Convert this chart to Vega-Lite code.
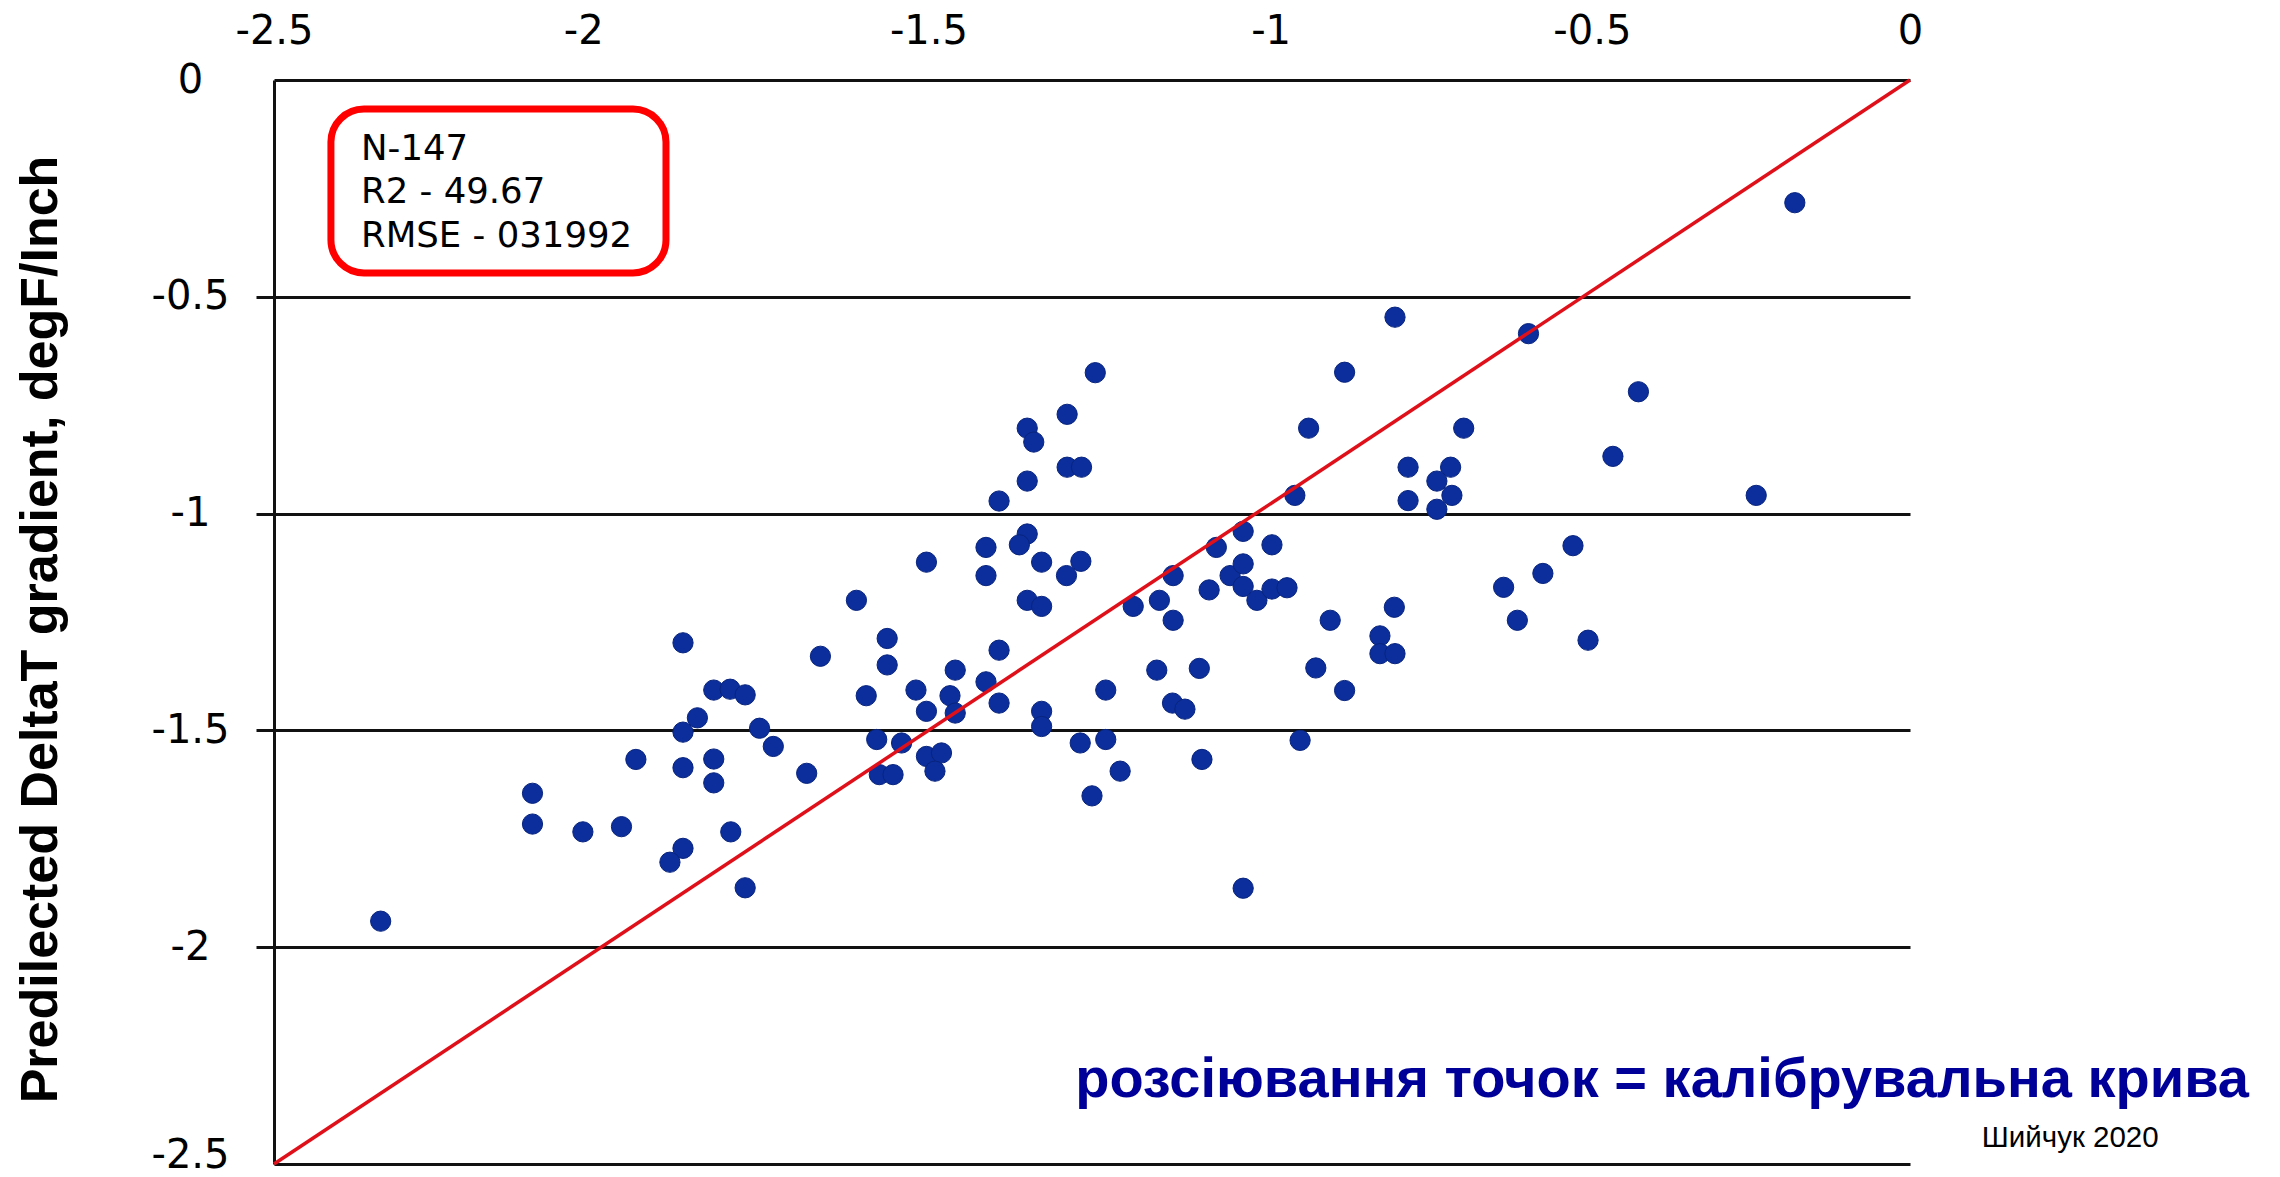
{
  "$schema": "https://vega.github.io/schema/vega-lite/v6.json",
  "width": 1636,
  "height": 1084,
  "autosize": {"type": "none"},
  "padding": {"left": 274, "top": 80, "right": 370, "bottom": 13},
  "background": "white",
  "config": {"view": {"stroke": null}},
  "data": {"values": [{}]},
  "layer": [
    {
      "data": {"values": [
        {"actual": -1.875, "predicted": -1.298}, {"actual": -1.828, "predicted": -1.407}, {"actual": -1.803, "predicted": -1.405},
        {"actual": -1.780, "predicted": -1.418}, {"actual": -1.853, "predicted": -1.471}, {"actual": -1.875, "predicted": -1.504},
        {"actual": -1.758, "predicted": -1.495}, {"actual": -1.737, "predicted": -1.537}, {"actual": -1.947, "predicted": -1.567},
        {"actual": -1.875, "predicted": -1.586}, {"actual": -1.828, "predicted": -1.566}, {"actual": -1.828, "predicted": -1.621},
        {"actual": -2.105, "predicted": -1.645}, {"actual": -2.105, "predicted": -1.716}, {"actual": -2.028, "predicted": -1.734},
        {"actual": -1.969, "predicted": -1.722}, {"actual": -1.875, "predicted": -1.772}, {"actual": -1.895, "predicted": -1.804},
        {"actual": -1.802, "predicted": -1.734}, {"actual": -1.780, "predicted": -1.863}, {"actual": -2.337, "predicted": -1.940},
        {"actual": -1.503, "predicted": -1.112}, {"actual": -1.412, "predicted": -1.143}, {"actual": -1.610, "predicted": -1.200},
        {"actual": -1.665, "predicted": -1.329}, {"actual": -1.563, "predicted": -1.288}, {"actual": -1.563, "predicted": -1.349},
        {"actual": -1.595, "predicted": -1.420}, {"actual": -1.519, "predicted": -1.407}, {"actual": -1.503, "predicted": -1.456},
        {"actual": -1.467, "predicted": -1.420}, {"actual": -1.459, "predicted": -1.361}, {"actual": -1.459, "predicted": -1.460},
        {"actual": -1.412, "predicted": -1.388}, {"actual": -1.392, "predicted": -1.315}, {"actual": -1.392, "predicted": -1.437},
        {"actual": -1.579, "predicted": -1.521}, {"actual": -1.541, "predicted": -1.529}, {"actual": -1.686, "predicted": -1.599},
        {"actual": -1.575, "predicted": -1.602}, {"actual": -1.554, "predicted": -1.602}, {"actual": -1.503, "predicted": -1.560},
        {"actual": -1.480, "predicted": -1.552}, {"actual": -1.490, "predicted": -1.594}, {"actual": -1.327, "predicted": -1.456},
        {"actual": -1.327, "predicted": -1.491}, {"actual": -1.349, "predicted": -1.200}, {"actual": -1.327, "predicted": -1.214},
        {"actual": -1.327, "predicted": -1.112}, {"actual": -1.289, "predicted": -1.143}, {"actual": -1.267, "predicted": -1.110},
        {"actual": -1.268, "predicted": -1.529}, {"actual": -1.229, "predicted": -1.521}, {"actual": -1.229, "predicted": -1.407},
        {"actual": -1.207, "predicted": -1.594}, {"actual": -1.250, "predicted": -1.651}, {"actual": -1.187, "predicted": -1.214},
        {"actual": -1.147, "predicted": -1.200}, {"actual": -1.126, "predicted": -1.246}, {"actual": -1.126, "predicted": -1.143},
        {"actual": -1.151, "predicted": -1.361}, {"actual": -1.086, "predicted": -1.357}, {"actual": -1.127, "predicted": -1.437},
        {"actual": -1.108, "predicted": -1.451}, {"actual": -1.082, "predicted": -1.567}, {"actual": -1.019, "predicted": -1.864},
        {"actual": -1.071, "predicted": -1.176}, {"actual": -1.039, "predicted": -1.143}, {"actual": -1.019, "predicted": -1.116},
        {"actual": -1.019, "predicted": -1.168}, {"actual": -0.998, "predicted": -1.200}, {"actual": -0.975, "predicted": -1.174},
        {"actual": -0.952, "predicted": -1.171},
        {"actual": -1.245, "predicted": -0.675}, {"actual": -1.288, "predicted": -0.771}, {"actual": -1.349, "predicted": -0.803},
        {"actual": -1.339, "predicted": -0.835}, {"actual": -1.288, "predicted": -0.893}, {"actual": -1.266, "predicted": -0.893},
        {"actual": -1.349, "predicted": -0.925}, {"actual": -1.392, "predicted": -0.971}, {"actual": -1.412, "predicted": -1.078},
        {"actual": -1.349, "predicted": -1.047}, {"actual": -1.361, "predicted": -1.072}, {"actual": -1.060, "predicted": -1.078},
        {"actual": -1.019, "predicted": -1.041}, {"actual": -0.975, "predicted": -1.072},
        {"actual": -0.176, "predicted": -0.283}, {"actual": -0.787, "predicted": -0.547}, {"actual": -0.583, "predicted": -0.585},
        {"actual": -0.864, "predicted": -0.674}, {"actual": -0.415, "predicted": -0.719}, {"actual": -0.919, "predicted": -0.803},
        {"actual": -0.682, "predicted": -0.803}, {"actual": -0.454, "predicted": -0.868}, {"actual": -0.767, "predicted": -0.893},
        {"actual": -0.702, "predicted": -0.893}, {"actual": -0.723, "predicted": -0.925}, {"actual": -0.700, "predicted": -0.958},
        {"actual": -0.767, "predicted": -0.970}, {"actual": -0.723, "predicted": -0.990}, {"actual": -0.940, "predicted": -0.958},
        {"actual": -0.235, "predicted": -0.958},
        {"actual": -0.886, "predicted": -1.246}, {"actual": -0.788, "predicted": -1.216}, {"actual": -0.810, "predicted": -1.282},
        {"actual": -0.810, "predicted": -1.323}, {"actual": -0.787, "predicted": -1.323}, {"actual": -0.908, "predicted": -1.356},
        {"actual": -0.864, "predicted": -1.408}, {"actual": -0.932, "predicted": -1.523}, {"actual": -0.621, "predicted": -1.170},
        {"actual": -0.561, "predicted": -1.138}, {"actual": -0.515, "predicted": -1.074}, {"actual": -0.600, "predicted": -1.246},
        {"actual": -0.492, "predicted": -1.292}
      ]},
      "mark": {"type": "circle", "size": 410, "color": "#0b2e9c", "opacity": 1, "stroke": "#08247e", "strokeWidth": 1},
      "encoding": {
        "x": {
          "field": "actual", "type": "quantitative",
          "scale": {"domain": [-2.5, 0], "nice": false, "zero": false},
          "axis": {
            "orient": "top", "title": null,
            "values": [-2.5, -2, -1.5, -1, -0.5, 0],
            "labelExpr": "datum.value == 0 ? '0' : '-' + format(-datum.value, '~g')",
            "labelFont": "DejaVu Sans", "labelFontSize": 40, "labelColor": "black",
            "labelBaseline": "alphabetic", "labelPadding": 37,
            "labelFlush": false, "labelOverlap": false, "labelBound": false,
            "labelOffset": {"condition": [
              {"test": "datum.value == -2", "value": -18},
              {"test": "datum.value == -1", "value": 15},
              {"test": "datum.value == -0.5", "value": 9}
            ], "value": 0},
            "ticks": false, "domain": false, "grid": false
          }
        },
        "y": {
          "field": "predicted", "type": "quantitative",
          "scale": {"domain": [-2.5, 0], "nice": false, "zero": false},
          "axis": {
            "title": "Predilected DeltaT gradient, degF/Inch",
            "titleFont": "Liberation Sans", "titleFontWeight": "bold", "titleFontSize": 52, "titleColor": "black", "titlePadding": 83,
            "titleY": 549,
            "values": [0, -0.5, -1, -1.5, -2, -2.5],
            "labelExpr": "datum.value == 0 ? '0' : '-' + format(-datum.value, '~g')",
            "labelFont": "DejaVu Sans", "labelFontSize": 40, "labelColor": "black",
            "labelAlign": "center", "labelBaseline": "middle", "labelPadding": 66,
            "labelOverlap": false, "labelBound": false, "labelFlush": false,
            "labelOffset": {"condition": {"test": "datum.value == -2.5", "value": -9}, "value": 0},
            "ticks": true, "tickSize": 18, "tickWidth": 3,
            "tickColor": {"condition": {"test": "datum.value == 0 || datum.value == -2.5", "value": "transparent"}, "value": "#111111"},
            "grid": true, "gridColor": "#111111", "gridWidth": 3,
            "domain": true, "domainColor": "#111111", "domainWidth": 3
          }
        }
      }
    },
    {
      "mark": {"type": "rect", "fill": "transparent", "stroke": "#ff0000", "strokeWidth": 7, "cornerRadius": 33},
      "encoding": {
        "x": {"datum": -2.413, "type": "quantitative"},
        "x2": {"datum": -1.901},
        "y": {"datum": -0.0669, "type": "quantitative"},
        "y2": {"datum": -0.4451}
      }
    },
    {
      "mark": {"type": "text", "text": ["N-147", "R2 - 49.67", "RMSE - 031992"], "font": "DejaVu Sans", "fontSize": 35.5, "align": "left", "baseline": "alphabetic", "lineHeight": 43.5, "color": "black"},
      "encoding": {
        "x": {"datum": -2.367, "type": "quantitative"},
        "y": {"datum": -0.1845, "type": "quantitative"}
      }
    },
    {
      "mark": {"type": "rule", "color": "#e0101a", "strokeWidth": 3.5},
      "encoding": {
        "x": {"datum": -2.5, "type": "quantitative"},
        "y": {"datum": -2.5, "type": "quantitative"},
        "x2": {"datum": 0},
        "y2": {"datum": 0}
      }
    },
    {
      "mark": {"type": "text", "text": "розсіювання точок = калібрувальна крива", "font": "Liberation Sans", "fontWeight": "bold", "fontSize": 56, "color": "#000099", "align": "right", "baseline": "alphabetic"},
      "encoding": {
        "x": {"datum": 0.518, "type": "quantitative"},
        "y": {"datum": -2.3455, "type": "quantitative"}
      }
    },
    {
      "mark": {"type": "text", "text": "Шийчук 2020", "font": "Liberation Sans", "fontSize": 29.5, "color": "black", "align": "right", "baseline": "alphabetic"},
      "encoding": {
        "x": {"datum": 0.38, "type": "quantitative"},
        "y": {"datum": -2.4608, "type": "quantitative"}
      }
    }
  ]
}
